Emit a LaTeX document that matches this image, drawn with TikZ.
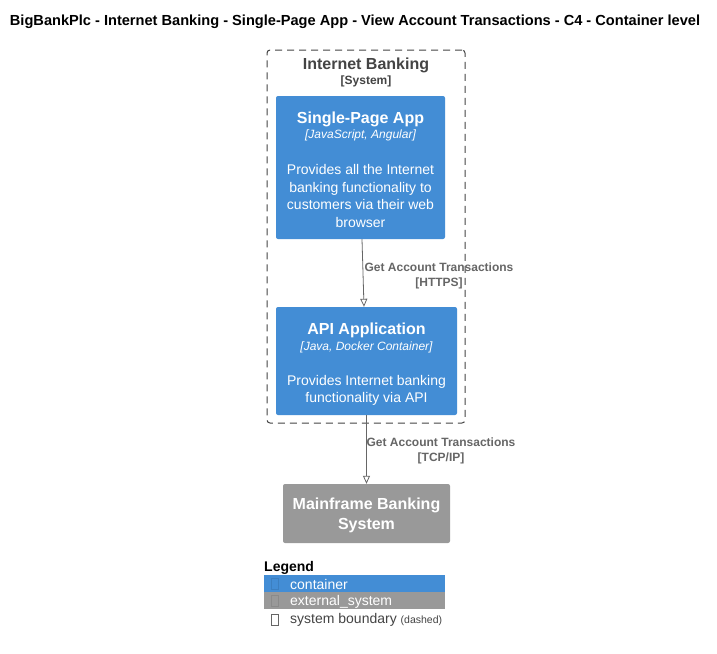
\documentclass[tikz,border=0pt]{standalone}
\usepackage{fontspec}
\setmainfont{Liberation Sans}
\usetikzlibrary{arrows.meta}
\definecolor{c4blue}{HTML}{438DD5}
\definecolor{c4blueDark}{HTML}{3C7FC0}
\definecolor{c4gray}{HTML}{999999}
\definecolor{c4grayDark}{HTML}{8A8A8A}
\definecolor{bnd}{HTML}{444444}
\definecolor{rel}{HTML}{666666}
\tikzset{
  box/.style={draw=none, rounded corners=2pt, inner sep=0pt},
  ttl/.style={text=white, font=\fontsize{16}{19}\selectfont\bfseries, inner sep=0pt},
  tech/.style={text=white, font=\fontsize{12}{14}\selectfont\itshape, inner sep=0pt},
  desc/.style={text=white, font=\fontsize{14}{17.6}\selectfont, align=center, inner sep=0pt},
  rellabel/.style={text=rel, font=\fontsize{12}{15}\selectfont\bfseries, align=center, inner sep=0pt},
  relarrow/.style={draw=rel, line width=0.8pt, -{Triangle[open,length=8pt,width=7pt]}},
  legtext/.style={font=\fontsize{14}{16}\selectfont, anchor=west, inner sep=0pt},
  legicon/.style={draw, line width=0.6pt, minimum width=7pt, minimum height=11pt, inner sep=0pt}
}
\begin{document}
\begin{tikzpicture}[x=1pt,y=-1pt]
\useasboundingbox (0,0) rectangle (717,653);
\fill[white] (0,0) rectangle (717,653);

% title
\node[font=\fontsize{14.6}{17}\selectfont\bfseries, inner sep=0pt] (title) at (355,21.5)
  {BigBankPlc - Internet Banking - Single-Page App - View Account Transactions - C4 - Container level};

% boundary
\node[draw=bnd, dash pattern=on 7pt off 5pt, line width=1pt, rounded corners=3pt,
      minimum width=198pt, minimum height=373pt, inner sep=0pt] (boundary) at (366,236.5) {};
\node[text=bnd, font=\fontsize{16}{19}\selectfont\bfseries, inner sep=0pt] (bndTitle) at (366,65) {Internet Banking};
\node[text=bnd, font=\fontsize{12}{14}\selectfont\bfseries, inner sep=0pt] (bndTech) at (366,81.5) {[System]};

% single-page app
\node[box, fill=c4blue, minimum width=169pt, minimum height=143pt] (spa) at (360.5,167.5) {};
\node[ttl] (spaTitle) at (360.5,119) {Single-Page App};
\node[tech] (spaTech) at (360.5,135.5) {[JavaScript, Angular]};
\node[desc] (spaDesc) at (360.5,196) {Provides all the Internet\\banking functionality to\\customers via their web\\browser};

% api application
\node[box, fill=c4blue, minimum width=181pt, minimum height=108pt] (api) at (366.5,361) {};
\node[ttl] (apiTitle) at (366.5,330) {API Application};
\node[tech] (apiTech) at (366.5,347) {[Java, Docker Container]};
\node[desc] (apiDesc) at (366.5,390.5) {Provides Internet banking\\functionality via API};

% mainframe
\node[box, fill=c4gray, minimum width=167pt, minimum height=59pt] (mf) at (366.5,513.5) {};
\node[text=white, font=\fontsize{16}{20}\selectfont\bfseries, align=center, inner sep=0pt] (mfTitle) at (366.5,515.5)
  {Mainframe Banking\\System};

% relations
\draw[relarrow] ([xshift=1.5pt]spa.south) -- ([xshift=-2.5pt]api.north);
\node[rellabel] (rel1) at (439,275.5) {Get Account Transactions\\{}[HTTPS]};
\draw[relarrow] (api.south) -- (mf.north);
\node[rellabel] (rel2) at (441,451) {Get Account Transactions\\{}[TCP/IP]};

% legend
\node[font=\fontsize{14}{16}\selectfont\bfseries, anchor=west, inner sep=0pt] (legTitle) at (264,568) {Legend};
\fill[c4blue] (264,575) rectangle (445,592);
\fill[c4gray] (264,592) rectangle (445,609);
\node[legicon, draw=c4blueDark] (ic1) at (274.5,584) {};
\node[legicon, draw=c4grayDark] (ic2) at (274.5,601) {};
\node[legicon, draw=rel] (ic3) at (274.5,619.5) {};
\node[legtext, text=white] (lg1) at (290,584.5) {container};
\node[legtext, text=white] (lg2) at (290,601.5) {external\_system};
\node[legtext, text=bnd] (lg3) at (290,620) {system boundary {\fontsize{10.5}{12}\selectfont (dashed)}};
\end{tikzpicture}
\end{document}
